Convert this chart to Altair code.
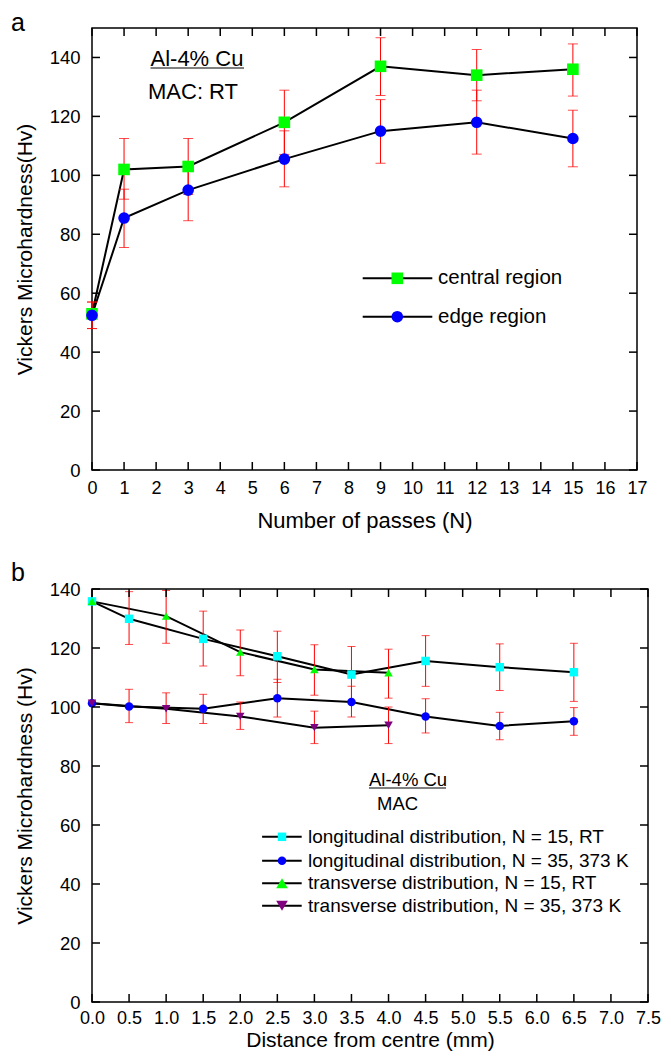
import altair as alt
import pandas as pd

FONT = "Liberation Sans"

# ---------------- Panel a data ----------------
passes = [0, 1, 3, 6, 9, 12, 15]
central = [53, 102, 103, 118, 137, 134, 136]
central_hi = [57, 112.5, 112.5, 128.9, 146.7, 142.7, 144.6]
central_lo = [48, 91.9, 93.5, 107.1, 127.1, 125.3, 126.9]
edge = [52.5, 85.5, 95, 105.5, 115, 118, 112.5]
edge_hi = [57, 95.3, 104, 115.1, 125.7, 128.9, 122.1]
edge_lo = [48, 75.5, 84.6, 96.1, 104.1, 107.2, 102.9]
series_a = ["central region", "edge region"]
colors_a = ["#00FF00", "#0000FF"]
shapes_a = ["square", "circle"]
xticks_a = list(range(0, 18))
yticks_a = [0, 20, 40, 60, 80, 100, 120, 140]
ann_a = ["Al-4% Cu", "MAC: RT"]

# ---------------- Panel b data ----------------
l15_x = [0, 0.5, 1.5, 2.5, 3.5, 4.5, 5.5, 6.5]
l15_y = [135.8, 129.9, 123.1, 117.2, 111.0, 115.6, 113.5, 111.8]
l15_hi = [None, 139.1, 132.5, 125.7, 120.5, 124.2, 121.4, 121.6]
l15_lo = [None, 121.2, 113.9, 108.3, 101.5, 107.0, 105.6, 101.9]
l35_x = [0, 0.5, 1.5, 2.5, 3.5, 4.5, 5.5, 6.5]
l35_y = [101.3, 100.2, 99.4, 103.0, 101.7, 96.8, 93.6, 95.2]
l35_hi = [None, 106.0, 104.3, 109.4, 107.0, 102.8, 98.2, 99.8]
l35_lo = [None, 94.7, 94.4, 96.6, 96.6, 91.2, 88.9, 90.4]
t15_x = [0, 1, 2, 3, 4]
t15_y = [135.8, 130.8, 118.6, 112.7, 111.6]
t15_hi = [None, 139.5, 126.1, 121.1, 119.6]
t15_lo = [None, 121.6, 110.6, 104.0, 103.0]
t35_x = [0, 1, 2, 3, 4]
t35_y = [101.3, 99.4, 96.8, 93.0, 93.8]
t35_hi = [None, 104.8, 101.7, 98.6, 100.0]
t35_lo = [None, 94.4, 92.4, 87.6, 87.6]
series_b = [
    "longitudinal distribution, N = 15, RT",
    "longitudinal distribution, N = 35, 373 K",
    "transverse distribution, N = 15, RT",
    "transverse distribution, N = 35, 373 K",
]
colors_b = ["#00FFFF", "#0000FF", "#00FF00", "#800080"]
shapes_b = ["square", "circle", "triangle-up", "triangle-down"]
xticks_b = [i * 0.5 for i in range(16)]
yticks_b = [0, 20, 40, 60, 80, 100, 120, 140]
ann_b = ["Al-4% Cu", "MAC"]


def frame(xs, ys, lo, hi, name):
    return pd.DataFrame({"x": xs, "y": ys, "lo": lo, "hi": hi, "series": name})


df_a = pd.concat([
    frame(passes, central, central_lo, central_hi, series_a[0]),
    frame(passes, edge, edge_lo, edge_hi, series_a[1]),
])
df_b = pd.concat([
    frame(l15_x, l15_y, l15_lo, l15_hi, series_b[0]),
    frame(l35_x, l35_y, l35_lo, l35_hi, series_b[1]),
    frame(t15_x, t15_y, t15_lo, t15_hi, series_b[2]),
    frame(t35_x, t35_y, t35_lo, t35_hi, series_b[3]),
])


def panel(df, series, colors, shapes, sizes, xdom, ydom, xticks, yticks, xfmt,
          xtitle, ytitle, title_font, lab_pad, tit_pad, W, H, cap, label, label_y,
          ann, ann_font, ann_pos, leg_font, leg_rows, leg_line, leg_marker_x,
          leg_text_x, ann_ul):
    xs = alt.Scale(domain=xdom, nice=False, zero=False)
    ys = alt.Scale(domain=ydom, nice=False, zero=False)
    xax = alt.Axis(values=xticks, format=xfmt, title=xtitle, ticks=False, domain=False,
                   grid=False, labelFontSize=18, titleFontSize=title_font,
                   labelPadding=lab_pad, titlePadding=tit_pad, labelFlush=False,
                   labelOverlap=False)
    yax = alt.Axis(values=yticks, title=ytitle, ticks=False, domain=False, grid=False,
                   labelFontSize=18.5, titleFontSize=21, labelPadding=12,
                   titlePadding=14, labelOverlap=False)

    def X(f):
        return alt.X(f, scale=xs, axis=xax)

    def Y(f):
        return alt.Y(f, scale=ys, axis=yax)

    base = alt.Chart(df)
    lines = base.mark_line(color="black", strokeWidth=2).encode(
        x=X("x:Q"), y=Y("y:Q"), detail="series:N", order="x:Q")
    err = base.transform_filter("isValid(datum.lo)")
    bars = err.mark_rule(color="#FF0000", strokeWidth=1).encode(
        x=X("x:Q"), y=Y("lo:Q"), y2="hi:Q")
    cap_lo = err.mark_tick(color="#FF0000", orient="horizontal", size=cap, thickness=1).encode(
        x=X("x:Q"), y=Y("lo:Q"))
    cap_hi = err.mark_tick(color="#FF0000", orient="horizontal", size=cap, thickness=1).encode(
        x=X("x:Q"), y=Y("hi:Q"))
    pts = base.mark_point(filled=True, opacity=1).encode(
        x=X("x:Q"), y=Y("y:Q"),
        color=alt.Color("series:N", scale=alt.Scale(domain=series, range=colors), legend=None),
        shape=alt.Shape("series:N", scale=alt.Scale(domain=series, range=shapes), legend=None),
        size=alt.Size("series:N", scale=alt.Scale(domain=series, range=sizes), legend=None),
    )
    # inward ticks on all four sides
    ytk = alt.Chart(pd.DataFrame({"v": yticks}))
    xtk = alt.Chart(pd.DataFrame({"v": xticks}))
    tl = ytk.mark_rule(color="black", strokeWidth=1.5).encode(
        y=Y("v:Q"), x=alt.value(0), x2=alt.value(8))
    tr = ytk.mark_rule(color="black", strokeWidth=1.5).encode(
        y=Y("v:Q"), x=alt.value(W - 8), x2=alt.value(W))
    tb = xtk.mark_rule(color="black", strokeWidth=1.5).encode(
        x=X("v:Q"), y=alt.value(H), y2=alt.value(H - 8))
    tt = xtk.mark_rule(color="black", strokeWidth=1.5).encode(
        x=X("v:Q"), y=alt.value(0), y2=alt.value(8))

    layers = [lines, bars, cap_lo, cap_hi, pts, tl, tr, tb, tt]

    # panel label
    layers.append(alt.Chart(pd.DataFrame({"t": [label]})).mark_text(
        align="left", baseline="alphabetic", fontSize=25, font=FONT).encode(
        x=alt.value(-81), y=alt.value(label_y), text="t:N"))

    # annotations
    for txt, (ax, ay) in zip(ann, ann_pos):
        layers.append(alt.Chart(pd.DataFrame({"t": [txt]})).mark_text(
            align="left", baseline="middle", fontSize=ann_font, font=FONT).encode(
            x=alt.value(ax), y=alt.value(ay), text="t:N"))
    layers.append(alt.Chart(pd.DataFrame({"t": [ann[0]]})).mark_rule(
        color="black", strokeWidth=1.2).encode(
        x=alt.value(ann_ul[0]), x2=alt.value(ann_ul[1]), y=alt.value(ann_ul[2])))

    # legend
    leg = pd.DataFrame({"series": series})
    for i, s in enumerate(series):
        ch = alt.Chart(leg.iloc[[i]])
        layers.append(ch.mark_rule(color="black", strokeWidth=2).encode(
            x=alt.value(leg_line[0]), x2=alt.value(leg_line[1]), y=alt.value(leg_rows[i])))
        layers.append(ch.mark_point(filled=True, opacity=1, size=sizes[i],
                                    shape=shapes[i], color=colors[i]).encode(
            x=alt.value(leg_marker_x), y=alt.value(leg_rows[i])))
        layers.append(ch.mark_text(align="left", baseline="middle", fontSize=leg_font,
                                   font=FONT).encode(
            x=alt.value(leg_text_x), y=alt.value(leg_rows[i]), text="series:N"))

    return alt.layer(*layers).properties(width=W, height=H)


top = panel(df_a, series_a, colors_a, shapes_a, [135, 135], [0, 17], [0, 150], xticks_a, yticks_a,
            "d", "Number of passes (N)", "Vickers Microhardness(Hv)", 22, 9, 13, 545, 442, 10,
            "a", 3, ann_a, 22, [(58.5, 30.5), (56, 64)], 20.5, [250.3, 288.7],
            (270.7, 340.3), 305.3, 346, (58.5, 152, 40))

bottom = panel(df_b, series_b, colors_b, shapes_b, [72, 72, 135, 135], [0, 7.5], [0, 140],
               xticks_b, yticks_b, ".1f", "Distance from centre (mm)",
               "Vickers Microhardness (Hv)", 21, 7, 2, 556, 413, 8, "b", -8,
               ann_b, 18.5, [(277, 191.4), (285, 214.6)], 19, [247.8, 271.7, 294.3, 316.8],
               (170.1, 209.7), 190, 216, (277, 354, 199))

chart = alt.vconcat(top, bottom, spacing=28).resolve_scale(
    color="independent", shape="independent", size="independent"
).properties(
    padding={"left": 2, "top": 2, "right": 0, "bottom": 0}
).configure(font=FONT).configure_view(stroke="black", strokeWidth=1.5).configure_axis(
    labelColor="black", titleColor="black", titleFontWeight="normal", labelFont=FONT, titleFont=FONT
)

chart.save("out.html", embed_options={"renderer": "svg", "actions": False})
